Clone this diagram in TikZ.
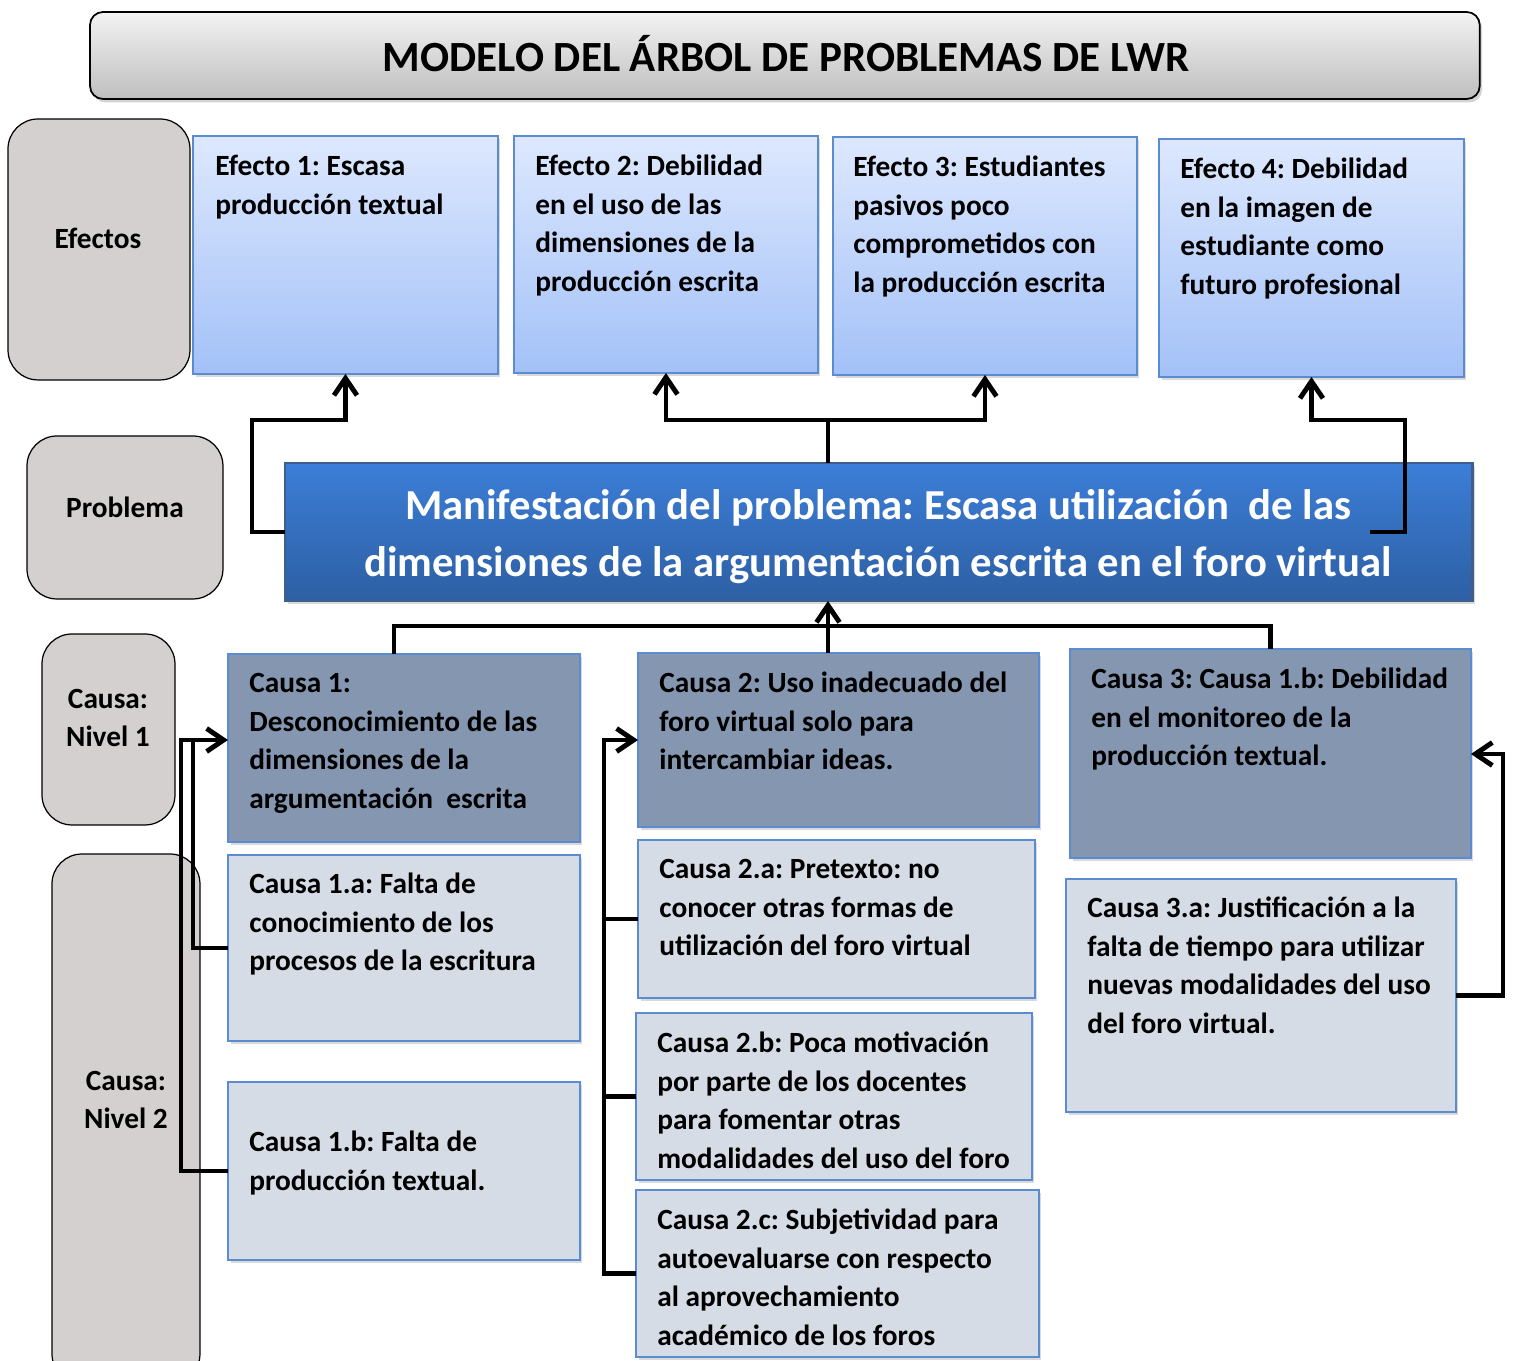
\documentclass[tikz,border=0pt]{standalone}
\usepackage{fontspec}
\setmainfont{Carlito}
\usetikzlibrary{arrows.meta,positioning,shadows}
\frenchspacing

\definecolor{sidegray}{HTML}{D4D0D0}
\definecolor{titletop}{HTML}{F3F3F3}
\definecolor{titlebot}{HTML}{BEBEBE}
\definecolor{efectotop}{HTML}{DDE8FE}
\definecolor{efectobot}{HTML}{A3C1F7}
\definecolor{probtop}{HTML}{3C7ED8}
\definecolor{probbot}{HTML}{2D5FA3}
\definecolor{probline}{HTML}{3E5F8A}
\definecolor{causaone}{HTML}{8496B0}
\definecolor{causatwo}{HTML}{D6DCE5}
\definecolor{boxline}{HTML}{5B8BD0}

\newcommand{\boxfont}{\fontsize{16.7}{21.9}\selectfont\bfseries}
\newcommand{\probfont}{\fontsize{24.3}{32.4}\selectfont\bfseries}
\newcommand{\titlefont}{\fontsize{24.5}{28}\selectfont\bfseries}

\begin{document}
\begin{tikzpicture}
	[x=0.02cm,y=-0.02cm,
	side/.style={draw=black,line width=0.7pt,fill=sidegray,rounded corners=0.6cm,
		inner sep=0pt,outer sep=0pt,anchor=north west},
	sidetxt/.style={font=\boxfont,align=center,inner sep=0pt},
	title/.style={draw=black,line width=1pt,top color=titletop,bottom color=titlebot,
		rounded corners=0.26cm,inner sep=0pt,outer sep=0pt,anchor=north west,
		drop shadow={shadow xshift=0.05cm,shadow yshift=-0.07cm,opacity=0.35}},
	efecto/.style={draw=boxline,line width=0.9pt,top color=efectotop,bottom color=efectobot,
		inner sep=0pt,outer sep=0pt,anchor=north west,
		drop shadow={shadow xshift=0.05cm,shadow yshift=-0.06cm,opacity=0.3}},
	problema/.style={draw=probline,line width=1.6pt,top color=probtop,bottom color=probbot,
		inner sep=0pt,outer sep=0pt,anchor=north west,
		drop shadow={shadow xshift=0.05cm,shadow yshift=-0.06cm,opacity=0.3}},
	nivelone/.style={draw=boxline,line width=0.9pt,fill=causaone,
		inner sep=0pt,outer sep=0pt,anchor=north west,
		drop shadow={shadow xshift=0.05cm,shadow yshift=-0.06cm,opacity=0.3}},
	niveltwo/.style={nivelone,fill=causatwo},
	txt/.style={font=\boxfont,align=left,anchor=north west,inner sep=0pt},
	conn/.style={draw=black,line width=2.8pt},
	arc/.style={conn,-{Straight Barb[length=0.34cm,width=0.46cm]}}]

	\useasboundingbox (0,0) rectangle (1514,1361);

	% title
	\node (title) [title,minimum width=27.8cm,minimum height=1.74cm] at (90,12) {};
	\node (titletxt) [font=\titlefont,inner sep=0pt] at (786,54) {MODELO DEL ÁRBOL DE PROBLEMAS DE LWR};

	% left labels
	\node (sefectos) [side,minimum width=3.64cm,minimum height=5.22cm] at (8,119) {};
	\node (sproblema) [side,minimum width=3.92cm,minimum height=3.26cm] at (27,436) {};
	\node (snivel1) [side,minimum width=2.66cm,minimum height=3.82cm] at (42,634) {};
	\node (snivel2) [side,minimum width=2.96cm,minimum height=10.6cm] at (52,854) {};
	\node (sefectostxt) [sidetxt] at (98,238) {Efectos};
	\node (sproblematxt) [sidetxt] at (125,507) {Problema};
	\node (snivel1txt) [sidetxt] at (108,718) {Causa:\\Nivel 1};
	\node (snivel2txt) [sidetxt] at (126,1100) {Causa:\\Nivel 2};

	% effects
	\node (e1) [efecto,minimum width=6.10cm,minimum height=4.76cm] at (193,136) {};
	\node (e2) [efecto,minimum width=6.08cm,minimum height=4.74cm] at (514,136) {};
	\node (e3) [efecto,minimum width=6.08cm,minimum height=4.76cm] at (833,137) {};
	\node (e4) [efecto,minimum width=6.10cm,minimum height=4.76cm] at (1159,139) {};
	\node (e1txt) [txt] at (215,155) {Efecto 1: Escasa\\producción textual};
	\node (e2txt) [txt] at (535,155) {Efecto 2: Debilidad\\en el uso de las\\dimensiones de la\\producción escrita};
	\node (e3txt) [txt] at (853,156) {Efecto 3: Estudiantes\\pasivos poco\\comprometidos con\\la producción escrita};
	\node (e4txt) [txt] at (1180,158) {Efecto 4: Debilidad\\en la imagen de\\estudiante como\\futuro profesional};

	% problem
	\node (prob) [problema,minimum width=23.76cm,minimum height=2.76cm] at (285,463) {};
	\node (probtxt) [font=\probfont,text=white,align=center,inner sep=0pt] at (878,537)
		{Manifestación del problema: Escasa utilización\ \ de las\\dimensiones de la argumentación escrita en el foro virtual};

	% causes
	\node (c1) [nivelone,minimum width=7.04cm,minimum height=3.76cm] at (228,654) {};
	\node (c2) [nivelone,minimum width=8.02cm,minimum height=3.48cm] at (638,653) {};
	\node (c3) [nivelone,minimum width=8.02cm,minimum height=4.18cm] at (1070,649) {};
	\node (c1a) [niveltwo,minimum width=7.04cm,minimum height=3.72cm] at (228,855) {};
	\node (c1b) [niveltwo,minimum width=7.04cm,minimum height=3.56cm] at (228,1082) {};
	\node (c2a) [niveltwo,minimum width=7.94cm,minimum height=3.16cm] at (638,840) {};
	\node (c2b) [niveltwo,minimum width=7.92cm,minimum height=3.34cm] at (636,1013) {};
	\node (c2c) [niveltwo,minimum width=8.06cm,minimum height=3.34cm] at (636,1190) {};
	\node (c3a) [niveltwo,minimum width=7.80cm,minimum height=4.66cm] at (1066,879) {};

	\node (c1txt) [txt] at (249,673) {Causa 1:\\Desconocimiento de las\\dimensiones de la\\argumentación\ \ escrita};
	\node (c1atxt) [txt] at (249,873) {Causa 1.a: Falta de\\conocimiento de los\\procesos de la escritura};
	\node (c1btxt) [txt] at (249,1131) {Causa 1.b: Falta de\\producción textual.};
	\node (c2txt) [txt] at (659,672) {Causa 2: Uso inadecuado del\\foro virtual solo para\\intercambiar ideas.};
	\node (c2atxt) [txt] at (659,859) {Causa 2.a: Pretexto: no\\conocer otras formas de\\utilización del foro virtual};
	\node (c2btxt) [txt] at (657,1032) {Causa 2.b: Poca motivación\\por parte de los docentes\\para fomentar otras\\modalidades del uso del foro};
	\node (c2ctxt) [txt] at (657,1209) {Causa 2.c: Subjetividad para\\autoevaluarse con respecto\\al aprovechamiento\\académico de los foros};
	\node (c3txt) [txt] at (1091,668) {Causa 3: Causa 1.b: Debilidad\\en el monitoreo de la\\producción textual.};
	\node (c3atxt) [txt] at (1087,897) {Causa 3.a: Justificación a la\\falta de tiempo para utilizar\\nuevas modalidades del uso\\del foro virtual.};

	% connectors
	\coordinate (topjoin) at (828,420);
	\coordinate (pright) at (1370,532);
	\coordinate (botjoin) at (828,626);
	\coordinate (c1rail) at (181,740);
	\coordinate (c1railin) at (193,740);
	\coordinate (c2rail) at (604,740);
	\coordinate (c3rail) at (1503,754);

	\draw [arc] (prob.west) -| (252,420) -| (e1.south);
	\draw [conn] (topjoin |- prob.north) -- (topjoin);
	\draw [arc] (topjoin) -| (e2.south);
	\draw [arc] (topjoin) -| (e3.south);
	\draw [arc] (pright) -| (1405,420) -| (e4.south);

	\draw [conn] ([shift={(-10,0)}]c1.north) |- (botjoin) -| (c3.north);
	\draw [arc] (botjoin |- c2.north) -- (botjoin |- prob.south);

	\draw [arc] (c1b.west) -| (c1rail) -- (c1rail -| c1.west);
	\draw [conn] (c1a.west) -| (c1railin);
	\draw [arc] (c2c.west) -| (c2rail) -- (c2rail -| c2.west);
	\draw [conn] (c2a.west) -- (c2a.west -| c2rail);
	\draw [conn] (c2b.west) -- (c2b.west -| c2rail);
	\draw [arc] (c3a.east) -| (c3rail) -- (c3rail -| c3.east);
\end{tikzpicture}
\end{document}
